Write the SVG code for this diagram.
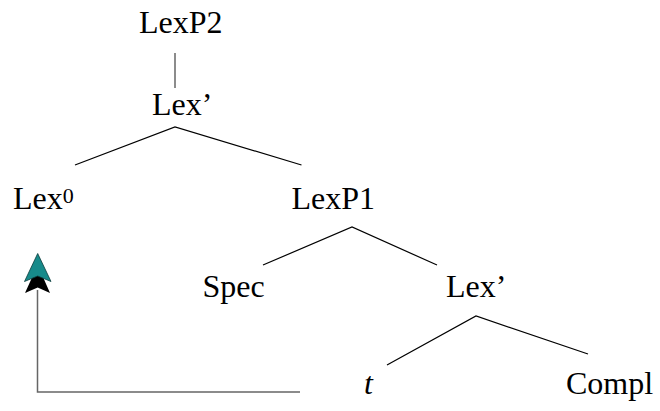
<svg xmlns="http://www.w3.org/2000/svg" width="660" height="411" viewBox="0 0 660 411">
<style>
.t{font-size:32px;fill:#000}
.e{stroke:#000;stroke-width:1.2;fill:none}
.g{stroke:#666;stroke-width:1.5;fill:none}
</style>
<rect width="660" height="411" fill="#fff"/>
<g id="connectors">
<line class="g" x1="175" y1="53" x2="175" y2="88"/>
<polyline class="e" points="75,165 175,127 301.5,165"/>
<polyline class="e" points="263,265 352,227 437,265"/>
<polyline class="e" points="387,365 476,316 588,354"/>
<polyline class="g" points="300,392 37.5,392 37.5,290"/>
<polygon points="37.7,265 25,293 37.7,287.5 50,293" fill="#000"/>
<polygon points="37.7,253.5 24.5,281.5 37.7,276 51,281.5" fill="#178a8a" stroke="#0b3c3c" stroke-width="0.8"/>
</g>
<g id="LexP2"><text class="t" font-family="'Liberation Serif', serif" x="139" y="33">LexP2</text></g>
<g id="LexBar1"><text class="t" font-family="'Liberation Serif', serif" x="152" y="115">Lex’</text></g>
<g id="Lex0"><text class="t" font-family="'Liberation Serif', serif" x="13" y="209">Lex<tspan font-size="22" dy="-6">0</tspan></text></g>
<g id="LexP1"><text class="t" font-family="'Liberation Serif', serif" x="291.5" y="209">LexP1</text></g>
<g id="Spec"><text class="t" font-family="'Liberation Serif', serif" x="202.5" y="297">Spec</text></g>
<g id="LexBar2"><text class="t" font-family="'Liberation Serif', serif" x="446" y="297">Lex’</text></g>
<g id="t"><text class="t" font-family="'Liberation Serif', serif" x="364" y="394" font-style="italic">t</text></g>
<g id="Compl"><text class="t" font-family="'Liberation Serif', serif" x="566" y="394">Compl</text></g>
</svg>
